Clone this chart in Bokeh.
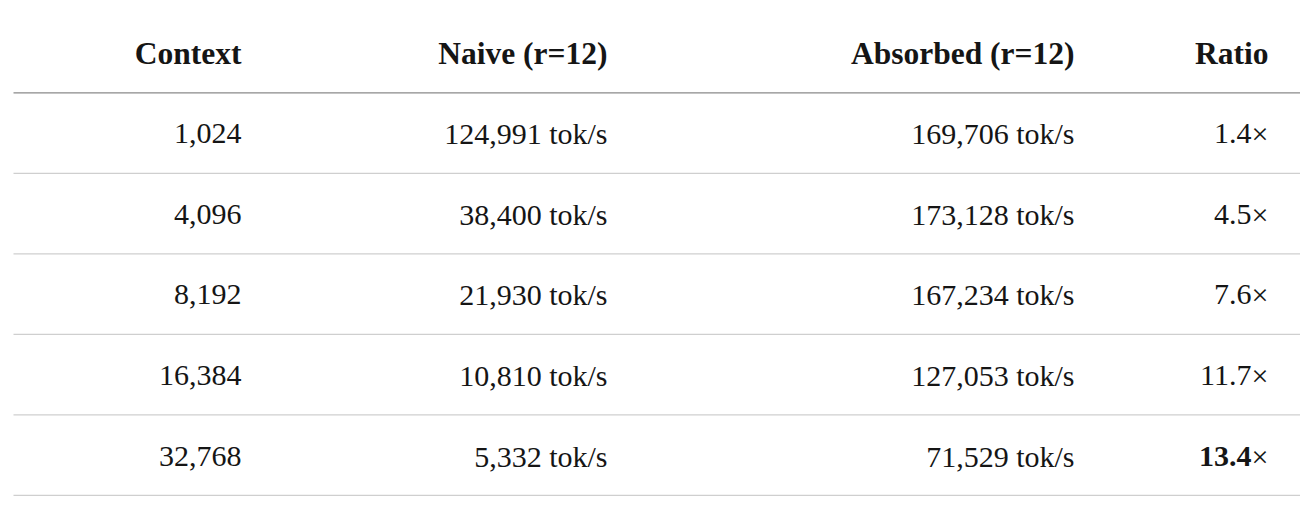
from bokeh.plotting import figure
from bokeh.models import Range1d
from bokeh.core.properties import value
from bokeh.embed import file_html
from bokeh.resources import INLINE

# ---- data ----
headers = ["Context", "Naive (r=12)", "Absorbed (r=12)", "Ratio"]
contexts = [1024, 4096, 8192, 16384, 32768]
naive = [124991, 38400, 21930, 10810, 5332]
absorbed = [169706, 173128, 167234, 127053, 71529]
ratios = [1.4, 4.5, 7.6, 11.7, 13.4]
bold_row = 4

# ---- layout (pixel units of the page) ----
col_right = [241, 607, 1074, 1268]
line_x0, line_x1 = 13, 1300
FONT = "Liberation Serif"
FS = "30px"
HFS = "31.5px"
TEXT = "#151515"

n = len(contexts)
p = figure(width=1300, height=496, output_backend="svg", toolbar_location=None,
           x_range=Range1d(0, 1300), y_range=Range1d(5.503, -0.658),
           min_border=0)
p.axis.visible = False
p.grid.visible = False
p.outline_line_color = None
p.background_fill_color = "white"
p.border_fill_color = "white"

# header
p.text(x=col_right, y=[0] * 4, text=headers, text_align="right",
       text_baseline="middle", text_font=value(FONT), text_font_size=HFS,
       text_font_style="bold", text_color=TEXT)

rows = list(range(1, n + 1))
p.text(x=[col_right[0]] * n, y=rows, text=[f"{c:,}" for c in contexts],
       text_align="right", text_baseline="middle", text_font=value(FONT),
       text_font_size=FS, text_color=TEXT)
p.text(x=[col_right[1]] * n, y=rows, text=[f"{v:,} tok/s" for v in naive],
       text_align="right", text_baseline="middle", text_font=value(FONT),
       text_font_size=FS, text_color=TEXT)
p.text(x=[col_right[2]] * n, y=rows, text=[f"{v:,} tok/s" for v in absorbed],
       text_align="right", text_baseline="middle", text_font=value(FONT),
       text_font_size=FS, text_color=TEXT)

# ratio column: number + "×"
xw = 17
p.text(x=[col_right[3]] * n, y=rows, text=["×"] * n,
       text_align="right", text_baseline="middle", text_font=value(FONT),
       text_font_size=FS, text_color=TEXT)
for i, r in enumerate(ratios):
    p.text(x=[col_right[3] - xw], y=[i + 1], text=[f"{r:.1f}"],
           text_align="right", text_baseline="middle", text_font=value(FONT),
           text_font_size=FS, text_color=TEXT,
           text_font_style="bold" if i == bold_row else "normal")

# rules
p.segment(x0=[line_x0], x1=[line_x1], y0=[0.49], y1=[0.49],
          line_color="#8a8a8a", line_width=1.3)
ys = [r + 0.49 for r in rows]
p.segment(x0=[line_x0] * n, x1=[line_x1] * n, y0=ys, y1=ys,
          line_color="#cfcfcf", line_width=1.3)

open("out.html", "w").write(file_html(p, INLINE))
